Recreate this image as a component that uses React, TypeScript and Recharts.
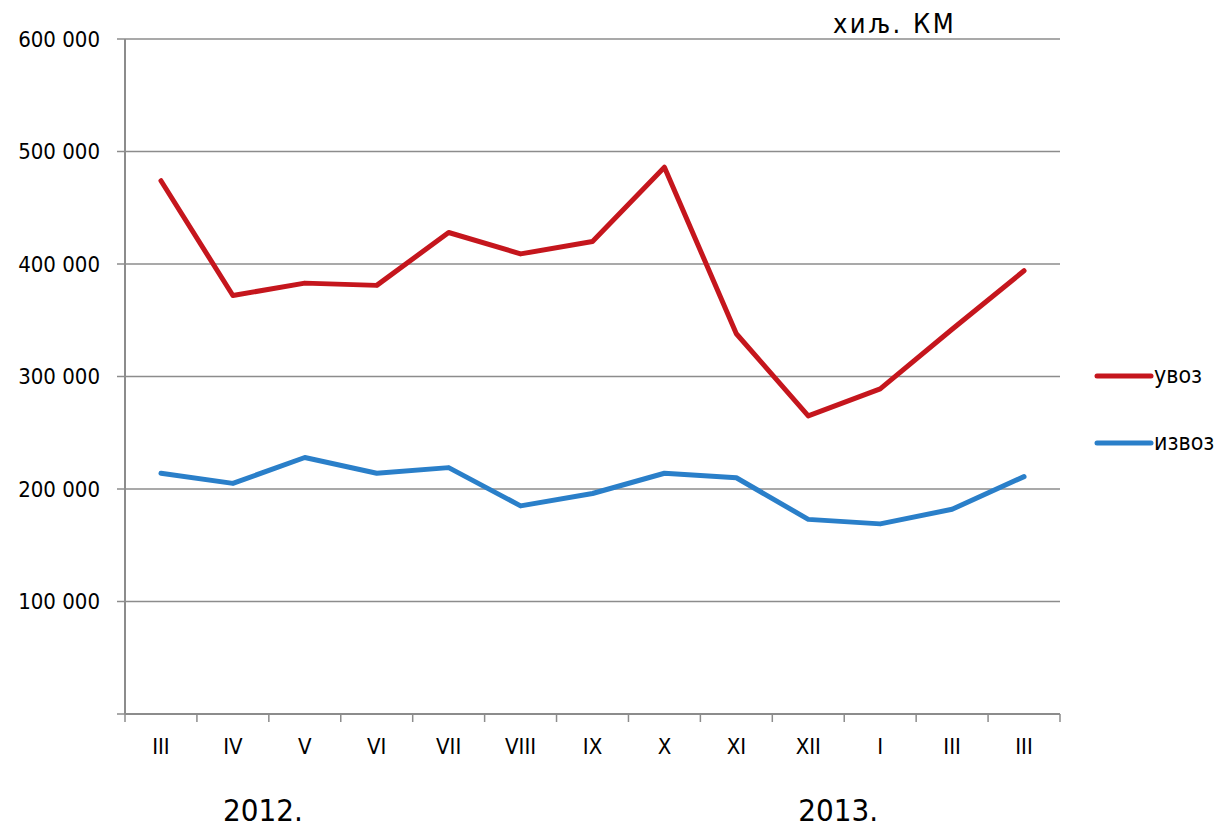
import React from 'react';
import { ComposedChart, Line, XAxis, YAxis, CartesianGrid, Legend, Customized } from 'recharts';

const months = ['III', 'IV', 'V', 'VI', 'VII', 'VIII', 'IX', 'X', 'XI', 'XII', 'I', 'III', 'III'];
const importValues = [474000, 372000, 383000, 381000, 428000, 409000, 420000, 486000, 338000, 265000, 289000, 342000, 394000];
const exportValues = [214000, 205000, 228000, 214000, 219000, 185000, 196000, 214000, 210000, 173000, 169000, 182000, 211000];
const yTicks = [0, 100000, 200000, 300000, 400000, 500000, 600000];
const yearLabels = ['2012.', '2013.'];
const yearPositions = [2, 10];
const unitLabel = 'хиљ. КМ';
const seriesNames = ['увоз', 'извоз'];

// tick positions: integers are category boundaries (tick marks), halves are category centres (labels)
const xTicks: number[] = [];
for (let i = 0; i <= months.length * 2; i++) xTicks.push(i / 2);

const RED = '#C5161D';
const BLUE = '#2A7FC9';
const GRAY = '#8C8C8C';
const FONT = '"DejaVu Sans Condensed", "DejaVu Sans", sans-serif';

const data = months.map((m, i) => ({
  x: i + 0.5,
  label: m,
  uvoz: importValues[i],
  izvoz: exportValues[i],
}));

const fmt = (v: number) => (v === 0 ? '' : v.toLocaleString('en-US').replace(/,/g, ' '));

const XTick = (props: any) => {
  const { x, y, payload } = props;
  const v: number = payload.value;
  if (Number.isInteger(v)) {
    const yi = yearPositions.indexOf(v);
    return (
      <g>
        <line x1={x} y1={y} x2={x} y2={y + 8} stroke={GRAY} strokeWidth={1.5} />
        {yi >= 0 && (
          <text x={x - 6} y={y + 107} textAnchor="middle" fontSize={31} fill="#000" fontFamily={FONT} style={{ fontStretch: 'condensed' }}>
            {yearLabels[yi]}
          </text>
        )}
      </g>
    );
  }
  const idx = Math.floor(v);
  return (
    <text x={x} y={y + 40} textAnchor="middle" fontSize={22} fill="#000" fontFamily={FONT} style={{ fontStretch: 'condensed' }}>
      {months[idx]}
    </text>
  );
};

const LegendContent = () => {
  const colors = [RED, BLUE];
  return (
    <div style={{ fontFamily: FONT, fontStretch: 'condensed' }}>
      {seriesNames.map((name, i) => (
        <div key={i} style={{ display: 'flex', alignItems: 'center', height: 67 }}>
          <svg width={60} height={10} style={{ display: 'block' }}>
            <line x1={3} y1={5} x2={57} y2={5} stroke={colors[i]} strokeWidth={5} strokeLinecap="round" />
          </svg>
          <span style={{ fontSize: 23, color: '#000', marginLeft: 0, lineHeight: '23px' }}>{name}</span>
        </div>
      ))}
    </div>
  );
};

const Title = () => (
  <text x={833} y={33} fontSize={27} letterSpacing={2.5} fontFamily='"DejaVu Sans", sans-serif' fill="#000">
    {unitLabel}
  </text>
);

export default function App() {
  return (
    <div style={{ position: 'absolute', left: 0, top: 0, width: 1224, height: 828, background: '#fff' }}>
      <ComposedChart
        width={1224}
        height={828}
        data={data}
        margin={{ top: 39, right: 164, bottom: 6, left: 0 }}
        style={{ fontFamily: FONT, fontStretch: 'condensed' }}
      >
        <CartesianGrid vertical={false} stroke={GRAY} strokeWidth={1.5} />
        <XAxis
          type="number"
          dataKey="x"
          domain={[0, 13]}
          ticks={xTicks}
          interval={0}
          height={108}
          tickSize={0}
          tickMargin={0}
          axisLine={{ stroke: GRAY, strokeWidth: 2 }}
          tickLine={false}
          tick={<XTick />}
        />
        <YAxis
          type="number"
          domain={[0, 600000]}
          ticks={yTicks}
          tickFormatter={fmt}
          width={125}
          tickSize={8}
          tickMargin={17}
          interval={0}
          axisLine={{ stroke: GRAY, strokeWidth: 2 }}
          tickLine={{ stroke: GRAY, strokeWidth: 1.5 }}
          tick={{ fontSize: 22, fill: '#000' }}
        />
        <Line
          type="linear"
          dataKey="uvoz"
          name={seriesNames[0]}
          stroke={RED}
          strokeWidth={5}
          strokeLinecap="round"
          strokeLinejoin="round"
          dot={false}
          activeDot={false}
          isAnimationActive={false}
        />
        <Line
          type="linear"
          dataKey="izvoz"
          name={seriesNames[1]}
          stroke={BLUE}
          strokeWidth={5}
          strokeLinecap="round"
          strokeLinejoin="round"
          dot={false}
          activeDot={false}
          isAnimationActive={false}
        />
        <Legend
          layout="vertical"
          align="center"
          verticalAlign="middle"
          content={<LegendContent />}
          wrapperStyle={{ left: 1094, top: 342, width: 130 }}
        />
        <Customized component={<Title />} />
      </ComposedChart>
    </div>
  );
}
